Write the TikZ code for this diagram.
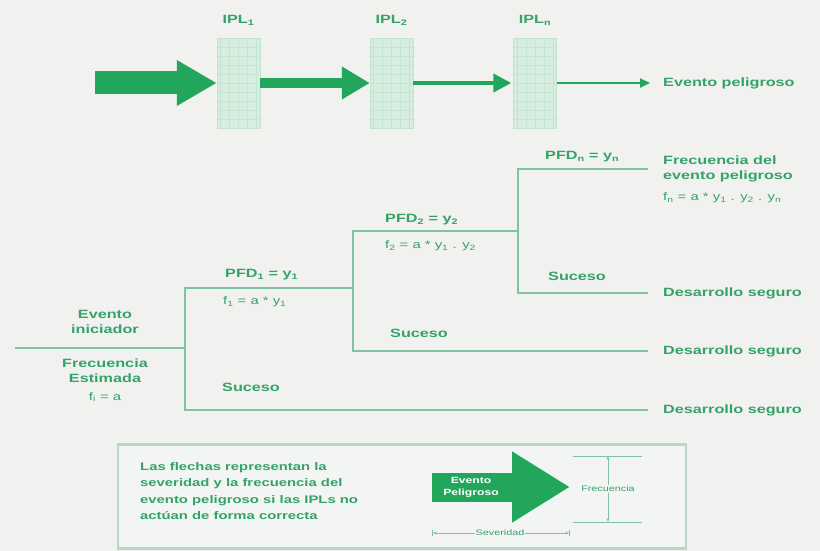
\documentclass[tikz,border=0pt]{standalone}
\usepackage{fontspec}
\setmainfont{Liberation Sans}[FakeStretch=1.35]
\usetikzlibrary{arrows.meta}

\definecolor{bggray}{RGB}{241,241,239}
\definecolor{keyfill}{RGB}{242,245,243}
\definecolor{arrowgreen}{RGB}{33,166,92}
\definecolor{txtgreen}{RGB}{52,163,104}
\definecolor{linegreen}{RGB}{128,195,163}
\definecolor{iplfill}{RGB}{214,237,223}
\definecolor{iplgrid}{RGB}{196,228,210}
\definecolor{framegray}{RGB}{185,214,198}

\begin{document}
\begin{tikzpicture}[
  x=1pt, y=-1pt,
  >={Stealth[length=4pt]},
  lbl/.style={font=\bfseries\fontsize{12}{15}\selectfont, text=txtgreen, inner sep=0pt, align=center},
  frm/.style={font=\fontsize{11}{13}\selectfont, text=txtgreen, inner sep=0pt},
  small/.style={font=\fontsize{8}{9}\selectfont, text=txtgreen, inner sep=1pt},
  ipl/.style={draw=iplgrid, fill=iplfill, minimum width=43pt, minimum height=90pt, inner sep=0pt,
    path picture={\draw[iplgrid, line width=0.6pt] (path picture bounding box.south west)
      grid[xstep=9pt, ystep=9pt] (path picture bounding box.north east);}},
  branch/.style={draw=linegreen, line width=2.4pt},
  dim/.style={draw=linegreen, line width=0.8pt},
]
  \fill[bggray] (0,0) rectangle (820,551);
  \useasboundingbox (0,0) rectangle (820,551);

  % IPL barriers along the path of the hazard
  \coordinate (src) at (95,83);
  \node[ipl] (ipl1) at (238.5,83) {};
  \node[ipl] (ipl2) at (391.5,83) {};
  \node[ipl] (ipln) at (535,83) {};
  \node[lbl] (lab1) at (238.5,20) {IPL\textsubscript{1}};
  \node[lbl] (lab2) at (391.5,20) {IPL\textsubscript{2}};
  \node[lbl] (labn) at (535,20) {IPL\textsubscript{n}};
  \node[lbl, anchor=west] (haz) at (663,83) {Evento peligroso};

  \draw[arrowgreen, line width=23pt, -{Triangle[length=40pt,width=43pt]}] (src) -- (ipl1.west);
  \draw[arrowgreen, line width=10pt, -{Triangle[length=28pt,width=31pt]}] (ipl1.east) -- (ipl2.west);
  \draw[arrowgreen, line width=4pt, -{Triangle[length=18pt,width=18pt]}] (ipl2.east) -- ([xshift=-2pt]ipln.west);
  \draw[arrowgreen, line width=1.8pt, -{Triangle[length=10pt,width=9pt]}] (ipln.east) -- ([xshift=-13pt]haz.west);

  % event tree
  \coordinate (ini) at (15,348);
  \coordinate (n1) at (185,348);
  \coordinate (n2) at (353,288);
  \coordinate (n3) at (518,231);
  \node[lbl, anchor=west, align=left] (fev) at (663,169) {Frecuencia del\\evento peligroso};
  \node[frm, anchor=west] (fevn) at (663,198) {f\textsubscript{n} = a * y\textsubscript{1} . y\textsubscript{2} . y\textsubscript{n}};
  \node[lbl, anchor=west] (ds1) at (663,293) {Desarrollo seguro};
  \node[lbl, anchor=west] (ds2) at (663,351) {Desarrollo seguro};
  \node[lbl, anchor=west] (ds3) at (663,410) {Desarrollo seguro};

  \draw[branch] (ini) -- (n1);
  \draw[branch] (n1) |- (n2);
  \draw[branch] (n1) |- ([xshift=-15pt]ds3.west);
  \draw[branch] (n2) |- (n3);
  \draw[branch] (n2) |- ([xshift=-15pt]ds2.west);
  \draw[branch] (n3) |- ([xshift=-15pt]fev.west);
  \draw[branch] (n3) |- ([xshift=-15pt]ds1.west);

  \node[lbl] (ini1) at (105,322) {Evento\\iniciador};
  \node[lbl] (ini2) at (105,371) {Frecuencia\\Estimada};
  \node[frm] (ini3) at (105,397) {f\textsubscript{i} = a};

  \node[lbl, anchor=west] (pfd1) at (225,275) {PFD\textsubscript{1} = y\textsubscript{1}};
  \node[frm, anchor=west] (f1) at (223,302) {f\textsubscript{1} = a * y\textsubscript{1}};
  \node[lbl, anchor=west] (s1) at (222,387) {Suceso};
  \node[lbl, anchor=west] (pfd2) at (385,220) {PFD\textsubscript{2} = y\textsubscript{2}};
  \node[frm, anchor=west] (f2) at (385,246) {f\textsubscript{2} = a * y\textsubscript{1} . y\textsubscript{2}};
  \node[lbl, anchor=west] (s2) at (390,333) {Suceso};
  \node[lbl, anchor=west] (pfdn) at (545,157) {PFD\textsubscript{n} = y\textsubscript{n}};
  \node[lbl, anchor=west] (s3) at (548,276) {Suceso};

  % key
  \node[draw=framegray, line width=2.5pt, fill=keyfill, minimum width=568pt, minimum height=104pt] (key) at (402,496.5) {};
  \node[lbl, align=left, anchor=west, font=\bfseries\fontsize{11}{16.5}\selectfont] (keytxt) at (140,491)
    {Las flechas representan la\\severidad y la frecuencia del\\evento peligroso si las IPLs no\\actúan de forma correcta};

  \coordinate (ka) at (432,487);
  \coordinate (kb) at (570,487);
  \draw[arrowgreen, line width=29pt, -{Triangle[length=58pt,width=67pt]}] (ka) -- (kb);
  \node[font=\bfseries\fontsize{9}{12}\selectfont, text=white, align=center, inner sep=0pt] (keyarr) at (471,487) {Evento\\Peligroso};

  \coordinate (fT1) at (573,456);
  \coordinate (fT2) at (642,456);
  \coordinate (fB1) at (573,522);
  \coordinate (fB2) at (642,522);
  \draw[dim] (fT1) -- (fT2);
  \draw[dim] (fB1) -- (fB2);
  \node[small] (frq) at (608,489) {Frecuencia};
  \draw[dim, ->] (frq.north) -- (frq.north |- fT1);
  \draw[dim, ->] (frq.south) -- (frq.south |- fB1);

  \coordinate (sL) at (432,533);
  \coordinate (sR) at (570,533);
  \draw[dim, |<->|] (sL) -- (sR);
  \node[small, fill=keyfill] (sev) at (500,533) {Severidad};
\end{tikzpicture}
\end{document}
